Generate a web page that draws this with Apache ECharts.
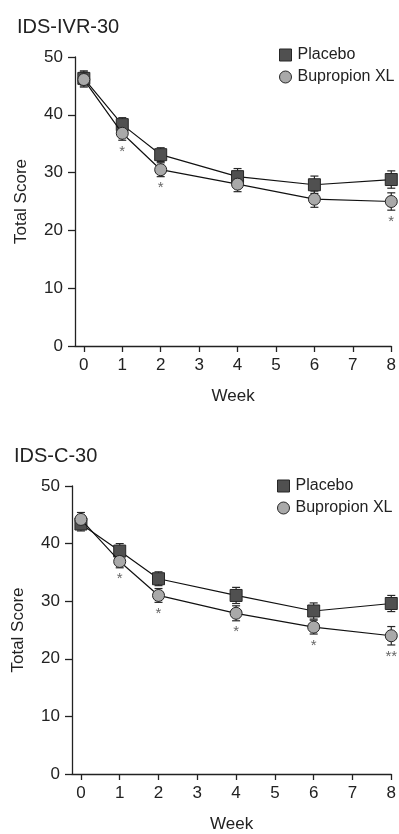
<!DOCTYPE html>
<html>
<head>
<meta charset="utf-8">
<script src="https://cdn.jsdelivr.net/npm/echarts@6/dist/echarts.min.js"></script>
<style>
html,body{margin:0;padding:0;background:#fff;}
#c{width:399px;height:834px;}
</style>
</head>
<body>
<div id="c"></div>
<script>
// ---- data ----
var weeks = [0, 1, 2, 4, 6, 8];
var xTicks = [0, 1, 2, 3, 4, 5, 6, 7, 8];
var yTicks = [0, 10, 20, 30, 40, 50];

// IDS-IVR-30
var ivrPlacebo = [46.3, 38.3, 33.1, 29.3, 27.9, 28.8];
var ivrPlaceboSE = [1.3, 1.2, 1.2, 1.4, 1.5, 1.5];
var ivrBupropion = [46.1, 36.8, 30.5, 28.0, 25.4, 25.0];
var ivrBupropionSE = [1.3, 1.2, 1.2, 1.3, 1.4, 1.5];
var ivrSig = ['', '*', '*', '', '', '*'];

// IDS-C-30
var cPlacebo = [43.4, 38.7, 33.9, 31.0, 28.3, 29.6];
var cPlaceboSE = [1.2, 1.3, 1.2, 1.4, 1.4, 1.4];
var cBupropion = [44.2, 36.9, 31.0, 27.9, 25.5, 24.0];
var cBupropionSE = [1.2, 1.1, 1.2, 1.3, 1.2, 1.6];
var cSig = ['', '*', '*', '*', '*', '**'];

var titles = ['IDS-IVR-30', 'IDS-C-30'];
var seriesNames = ['Placebo', 'Bupropion XL'];

// ---- styles ----
var FONT = 'Liberation Sans, Arial, Helvetica, sans-serif';
var TXT = '#222';
var PLACEBO_FILL = '#505050';
var BUP_FILL = '#a9a9a9';
var EDGE = '#262626';

function zip(xs, ys, es) {
  return xs.map(function (x, i) { return [x, ys[i], es ? es[i] : 0]; });
}

function errRender(params, api) {
  var x = api.value(0), y = api.value(1), e = api.value(2);
  var top = api.coord([x, y + e]);
  var bot = api.coord([x, y - e]);
  var w = 4;
  var st = { stroke: EDGE, lineWidth: 1.2 };
  return {
    type: 'group',
    children: [
      { type: 'line', shape: { x1: top[0], y1: top[1], x2: bot[0], y2: bot[1] }, style: st },
      { type: 'line', shape: { x1: top[0] - w, y1: top[1], x2: top[0] + w, y2: top[1] }, style: st },
      { type: 'line', shape: { x1: bot[0] - w, y1: bot[1], x2: bot[0] + w, y2: bot[1] }, style: st }
    ]
  };
}

function sigRender(sigs) {
  return function (params, api) {
    var s = sigs[params.dataIndex];
    if (!s) return null;
    var x = api.value(0), y = api.value(1), e = api.value(2);
    var p = api.coord([x, y - e]);
    return {
      type: 'text',
      x: p[0], y: p[1] + 4,
      style: { text: s, fill: '#666', font: '15px ' + FONT, textAlign: 'center', textVerticalAlign: 'top' }
    };
  };
}

var grids = [
  { left: 75, right: 4, top: 57, height: 289 },
  { left: 72, right: 7, top: 486, height: 290 }
];

function xAxis(gi) {
  return {
    type: 'value', gridIndex: gi, min: -0.23, max: 8,
    axisLine: { show: true, onZero: false, lineStyle: { color: '#222', width: 1.3 } },
    axisTick: { show: true, length: 6, customValues: xTicks, lineStyle: { color: '#222', width: 1.3 } },
    axisLabel: { customValues: xTicks, color: TXT, fontSize: 17, fontFamily: FONT, margin: 11 },
    splitLine: { show: false },
    name: 'Week', nameLocation: 'middle', nameGap: 42,
    nameTextStyle: { color: TXT, fontSize: 17, fontFamily: FONT }
  };
}
function yAxis(gi) {
  return {
    type: 'value', gridIndex: gi, min: 0, max: 50, interval: 10,
    axisLine: { show: true, onZero: false, lineStyle: { color: '#222', width: 1.3 } },
    axisTick: { show: true, length: 7, lineStyle: { color: '#222', width: 1.3 } },
    axisLabel: { color: TXT, fontSize: 17, fontFamily: FONT, margin: 12 },
    splitLine: { show: false },
    name: 'Total Score', nameLocation: 'middle', nameGap: 45, nameRotate: 90,
    nameTextStyle: { color: TXT, fontSize: 17, fontFamily: FONT }
  };
}

function seriesFor(gi, plc, plcSE, bup, bupSE, sigs) {
  return [
    { type: 'custom', xAxisIndex: gi, yAxisIndex: gi, renderItem: errRender, data: zip(weeks, plc, plcSE), z: 2, silent: true },
    { type: 'custom', xAxisIndex: gi, yAxisIndex: gi, renderItem: errRender, data: zip(weeks, bup, bupSE), z: 2, silent: true },
    { type: 'line', name: seriesNames[0], xAxisIndex: gi, yAxisIndex: gi, data: zip(weeks, plc),
      symbol: 'rect', symbolSize: 12, showAllSymbol: true,
      lineStyle: { color: '#111', width: 1.2 },
      itemStyle: { color: PLACEBO_FILL, borderColor: EDGE, borderWidth: 1 }, z: 3 },
    { type: 'line', name: seriesNames[1], xAxisIndex: gi, yAxisIndex: gi, data: zip(weeks, bup),
      symbol: 'circle', symbolSize: 12, showAllSymbol: true,
      lineStyle: { color: '#111', width: 1.2 },
      itemStyle: { color: BUP_FILL, borderColor: EDGE, borderWidth: 1 }, z: 4 },
    { type: 'custom', xAxisIndex: gi, yAxisIndex: gi, renderItem: sigRender(sigs), data: zip(weeks, bup, bupSE), z: 5, silent: true }
  ];
}

function legend(top, left) {
  return {
    top: top, left: left, orient: 'vertical', itemGap: 6, itemWidth: 12, itemHeight: 12,
    data: [
      { name: seriesNames[0], icon: 'rect' },
      { name: seriesNames[1], icon: 'circle' }
    ],
    textStyle: { color: TXT, fontSize: 16, fontFamily: FONT, padding: [0, 0, 0, 1] },
    itemStyle: { borderColor: EDGE, borderWidth: 1 },
    selectedMode: false
  };
}

var chart = echarts.init(document.getElementById('c'), null, { renderer: 'canvas' });
chart.setOption({
  animation: false,
  backgroundColor: '#fff',
  title: [
    { text: titles[0], left: 12, top: 12, textStyle: { color: TXT, fontSize: 20, fontWeight: 'normal', fontFamily: FONT } },
    { text: titles[1], left: 9, top: 441, textStyle: { color: TXT, fontSize: 20, fontWeight: 'normal', fontFamily: FONT } }
  ],
  legend: [legend(42, 274), legend(473, 272)],
  grid: grids,
  xAxis: [xAxis(0), xAxis(1)],
  yAxis: [yAxis(0), yAxis(1)],
  series: [].concat(
    seriesFor(0, ivrPlacebo, ivrPlaceboSE, ivrBupropion, ivrBupropionSE, ivrSig),
    seriesFor(1, cPlacebo, cPlaceboSE, cBupropion, cBupropionSE, cSig)
  )
});
</script>
</body>
</html>
